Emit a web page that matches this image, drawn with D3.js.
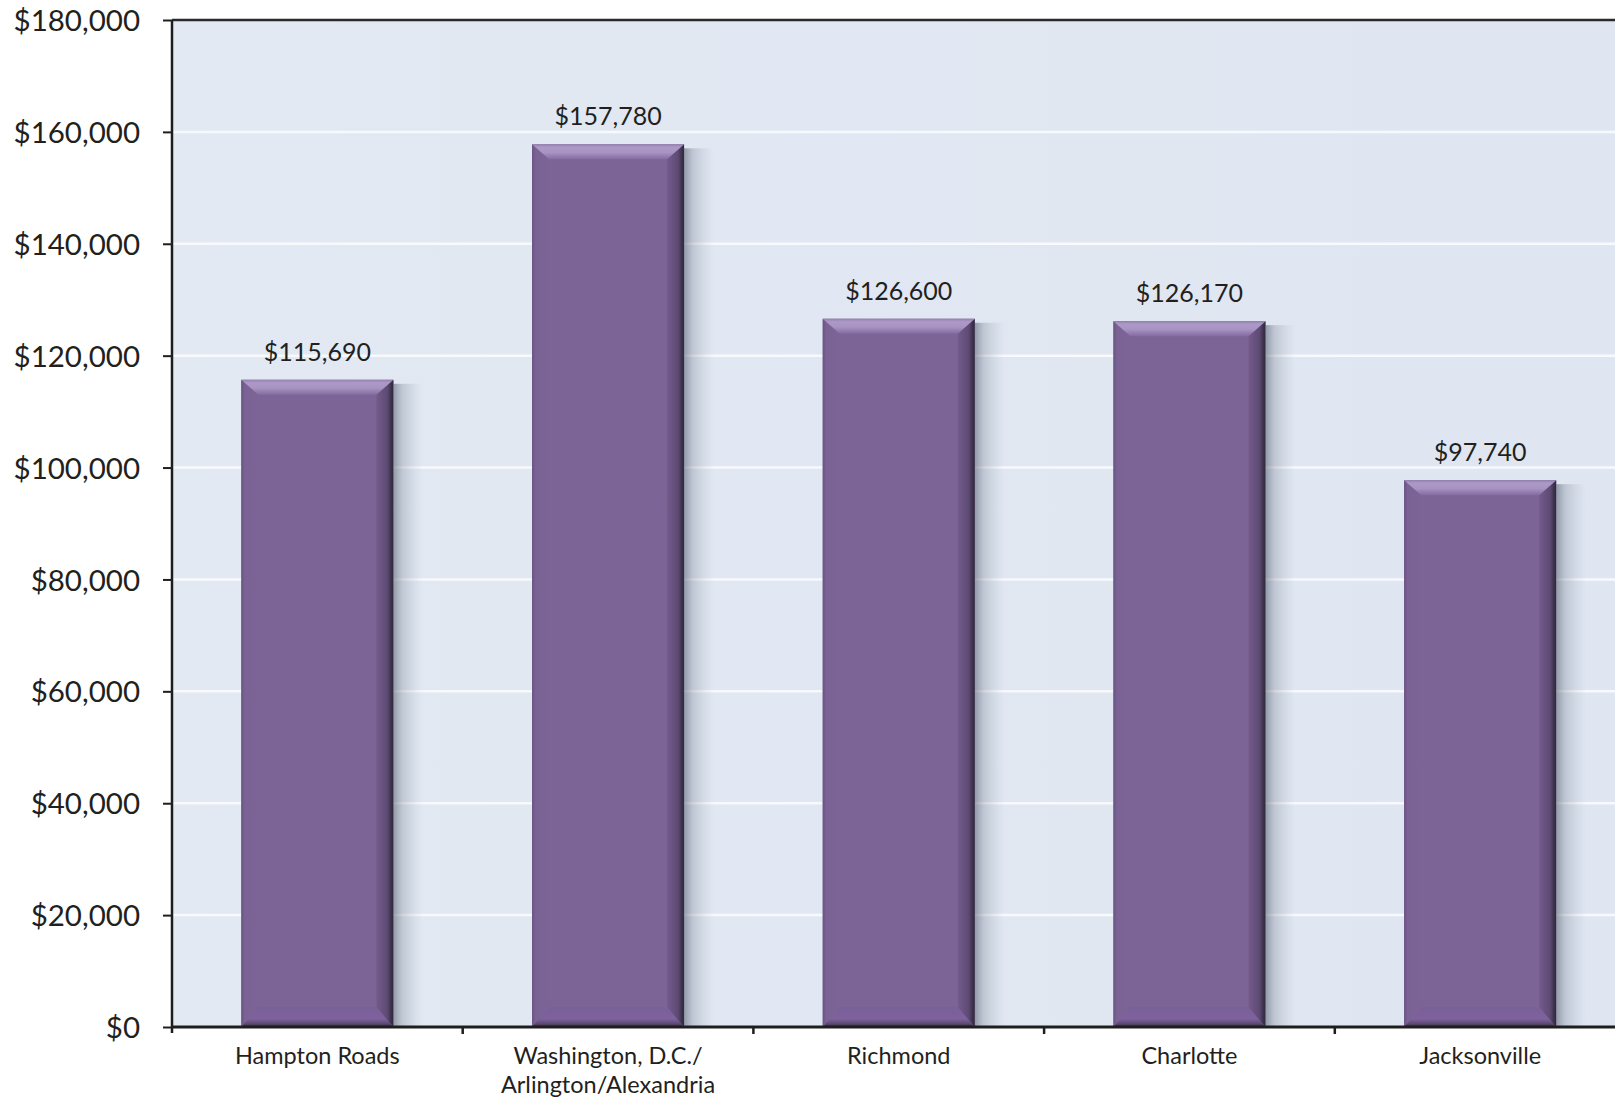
<!DOCTYPE html>
<html>
<head>
<meta charset="utf-8">
<script src="https://cdn.jsdelivr.net/npm/d3@7"></script>
<style>
  html, body { margin: 0; padding: 0; background: #ffffff; overflow: hidden; }
  svg { display: block; }
  text { font-family: Lato, "Open Sans", sans-serif; fill: #231f20; }
</style>
</head>
<body>
<svg id="chart" width="1615" height="1104"></svg>
<script>
// Average annual wage by metro area
const categories = [
  ["Hampton Roads"],
  ["Washington, D.C./", "Arlington/Alexandria"],
  ["Richmond"],
  ["Charlotte"],
  ["Jacksonville"]
];
const wages = [115690, 157780, 126600, 126170, 97740];
const yTicks = [0, 20000, 40000, 60000, 80000, 100000, 120000, 140000, 160000, 180000];

const svg = d3.select("#chart");
const plot = { left: 172, top: 20, bottom: 1027, step: 290.7 };
plot.right = plot.left + plot.step * categories.length;

const keys = categories.map(c => c.join(" "));
const x = d3.scaleBand()
  .domain(keys)
  .range([plot.left, plot.right])
  .paddingInner(0.477)
  .paddingOuter(0.2385);

const y = d3.scaleLinear()
  .domain([0, 180000])
  .range([plot.bottom, plot.top]);

const fmt = d3.format("$,");

// gradients
const defs = svg.append("defs");
const bgGrad = defs.append("linearGradient").attr("id", "bg").attr("x1", 0).attr("x2", 1).attr("y1", 0).attr("y2", 0);
bgGrad.append("stop").attr("offset", 0).attr("stop-color", "#e2e9f3");
bgGrad.append("stop").attr("offset", 1).attr("stop-color", "#dfe6f1");

const shadow = defs.append("linearGradient").attr("id", "shadow").attr("x1", 0).attr("x2", 1).attr("y1", 0).attr("y2", 0);
shadow.append("stop").attr("offset", 0).attr("stop-color", "#4e586a").attr("stop-opacity", 0.55);
shadow.append("stop").attr("offset", 0.3).attr("stop-color", "#707a8c").attr("stop-opacity", 0.3);
shadow.append("stop").attr("offset", 1).attr("stop-color", "#9aa4b4").attr("stop-opacity", 0);

const topG = defs.append("linearGradient").attr("id", "bevelTop").attr("x1", 0).attr("x2", 0).attr("y1", 0).attr("y2", 1);
topG.append("stop").attr("offset", 0).attr("stop-color", "#9580b0");
topG.append("stop").attr("offset", 0.2).attr("stop-color", "#ad99c8");
topG.append("stop").attr("offset", 0.55).attr("stop-color", "#a893c3");
topG.append("stop").attr("offset", 1).attr("stop-color", "#836c9f");

const rightG = defs.append("linearGradient").attr("id", "bevelRight").attr("x1", 0).attr("x2", 1).attr("y1", 0).attr("y2", 0);
rightG.append("stop").attr("offset", 0).attr("stop-color", "#735b8c");
rightG.append("stop").attr("offset", 0.65).attr("stop-color", "#5d4a72");
rightG.append("stop").attr("offset", 0.85).attr("stop-color", "#3f3350");
rightG.append("stop").attr("offset", 1).attr("stop-color", "#2f2838");

const leftG = defs.append("linearGradient").attr("id", "bevelLeft").attr("x1", 0).attr("x2", 1).attr("y1", 0).attr("y2", 0);
leftG.append("stop").attr("offset", 0).attr("stop-color", "#6a5484");
leftG.append("stop").attr("offset", 0.2).attr("stop-color", "#7a6294");
leftG.append("stop").attr("offset", 1).attr("stop-color", "#7c6496");

const botG = defs.append("linearGradient").attr("id", "bevelBottom").attr("x1", 0).attr("x2", 0).attr("y1", 0).attr("y2", 1);
botG.append("stop").attr("offset", 0).attr("stop-color", "#7a5f98");
botG.append("stop").attr("offset", 0.6).attr("stop-color", "#7e619e");
botG.append("stop").attr("offset", 0.85).attr("stop-color", "#5b4870");
botG.append("stop").attr("offset", 1).attr("stop-color", "#2f2838");

// plot background
svg.append("rect")
  .attr("x", plot.left).attr("y", plot.top)
  .attr("width", plot.right - plot.left).attr("height", plot.bottom - plot.top)
  .attr("fill", "url(#bg)");

// gridlines
svg.append("g")
  .selectAll("line")
  .data(yTicks.filter(t => t > 0 && t < 180000))
  .join("line")
  .attr("x1", plot.left).attr("x2", plot.right)
  .attr("y1", d => y(d)).attr("y2", d => y(d))
  .attr("stroke", "#f7f9fc").attr("stroke-width", 2.5);

// bars
const bw = x.bandwidth();
const bars = svg.append("g").selectAll("g")
  .data(wages.map((v, i) => ({ key: keys[i], v })))
  .join("g");

bars.append("rect")
  .attr("x", d => x(d.key) + bw)
  .attr("y", d => y(d.v) + 4)
  .attr("width", 30)
  .attr("height", d => plot.bottom - y(d.v) - 4)
  .attr("fill", "url(#shadow)");

bars.append("rect")
  .attr("x", d => x(d.key))
  .attr("y", d => y(d.v))
  .attr("width", bw)
  .attr("height", d => plot.bottom - y(d.v))
  .attr("fill", "#7c6496");

const bt = 15, bs = 17, bb = 20;
function poly(pts) { return "M" + pts.map(p => p.join(",")).join("L") + "Z"; }

bars.append("path")
  .attr("fill", "url(#bevelLeft)")
  .attr("d", d => {
    const x0 = x(d.key), y0 = y(d.v), y1 = plot.bottom;
    return poly([[x0, y0], [x0 + bs, y0 + bt], [x0 + bs, y1 - bb], [x0, y1]]);
  });

bars.append("path")
  .attr("fill", "url(#bevelBottom)")
  .attr("d", d => {
    const x0 = x(d.key), x1 = x0 + bw, y1 = plot.bottom;
    return poly([[x0, y1], [x0 + bs, y1 - bb], [x1 - bs, y1 - bb], [x1, y1]]);
  });

bars.append("path")
  .attr("fill", "url(#bevelRight)")
  .attr("d", d => {
    const x0 = x(d.key), x1 = x0 + bw, y0 = y(d.v), y1 = plot.bottom;
    return poly([[x1, y0], [x1, y1], [x1 - bs, y1 - bb], [x1 - bs, y0 + bt]]);
  });

bars.append("path")
  .attr("fill", "url(#bevelTop)")
  .attr("d", d => {
    const x0 = x(d.key), x1 = x0 + bw, y0 = y(d.v);
    return poly([[x0, y0], [x1, y0], [x1 - bs, y0 + bt], [x0 + bs, y0 + bt]]);
  });

// value labels
bars.append("text")
  .attr("x", d => x(d.key) + bw / 2)
  .attr("y", d => y(d.v) - 19)
  .attr("text-anchor", "middle")
  .attr("font-size", 25)
  .text(d => fmt(d.v));

// top border
svg.append("line")
  .attr("x1", plot.left).attr("x2", plot.right)
  .attr("y1", plot.top).attr("y2", plot.top)
  .attr("stroke", "#2a2a2a").attr("stroke-width", 2.5);

// y axis
const yAxis = svg.append("g")
  .attr("transform", `translate(${plot.left},0)`)
  .call(d3.axisLeft(y).tickValues(yTicks).tickFormat(fmt).tickSize(9).tickPadding(23));
yAxis.select(".domain").attr("stroke", "#1e1e1e").attr("stroke-width", 2.5)
  .attr("d", `M0,${plot.top}V${plot.bottom + 6}`);
yAxis.selectAll(".tick line").attr("stroke", "#1e1e1e").attr("stroke-width", 2);
yAxis.selectAll(".tick text")
  .attr("font-size", 29.5)
  .attr("font-family", "Lato, 'Open Sans', sans-serif")
  .attr("fill", "#231f20")
  .attr("dy", "0.36em");

// x axis
svg.append("line")
  .attr("x1", plot.left).attr("x2", plot.right)
  .attr("y1", plot.bottom).attr("y2", plot.bottom)
  .attr("stroke", "#1e1e1e").attr("stroke-width", 3);

svg.append("g").selectAll("line")
  .data(keys.slice(1))
  .join("line")
  .attr("x1", d => x(d) - x.step() * x.paddingInner() / 2)
  .attr("x2", d => x(d) - x.step() * x.paddingInner() / 2)
  .attr("y1", plot.bottom).attr("y2", plot.bottom + 7)
  .attr("stroke", "#1e1e1e").attr("stroke-width", 2.5);

const xl = svg.append("g").selectAll("text")
  .data(categories.map((c, i) => ({ key: keys[i], lines: c })))
  .join("text")
  .attr("x", d => x(d.key) + bw / 2)
  .attr("y", 1064)
  .attr("text-anchor", "middle")
  .attr("font-size", 23.5);
xl.selectAll("tspan")
  .data(d => d.lines.map((l, j) => ({ l, j, cx: x(d.key) + bw / 2 })))
  .join("tspan")
  .attr("x", d => d.cx)
  .attr("dy", d => d.j === 0 ? 0 : 29)
  .text(d => d.l);
</script>
</body>
</html>
